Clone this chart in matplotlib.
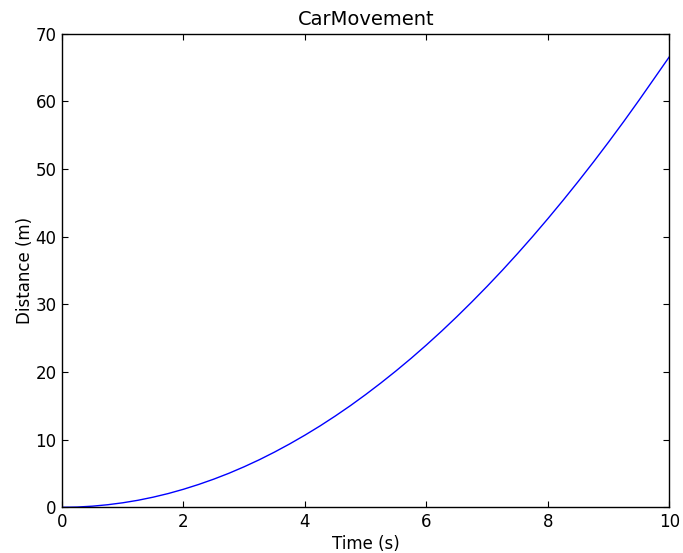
import matplotlib
matplotlib.use("Agg")
import matplotlib.pyplot as plt

# Data
time_s = [0.0, 0.25, 0.5, 0.75, 1.0, 1.25, 1.5, 1.75, 2.0, 2.25, 2.5,
          2.75, 3.0, 3.25, 3.5, 3.75, 4.0, 4.25, 4.5, 4.75, 5.0,
          5.25, 5.5, 5.75, 6.0, 6.25, 6.5, 6.75, 7.0, 7.25, 7.5,
          7.75, 8.0, 8.25, 8.5, 8.75, 9.0, 9.25, 9.5, 9.75, 10.0]
distance_m = [0.0, 0.04, 0.17, 0.38, 0.67, 1.04, 1.5, 2.04, 2.67, 3.38, 4.17,
              5.04, 6.0, 7.04, 8.17, 9.38, 10.67, 12.04, 13.5, 15.04, 16.67,
              18.38, 20.17, 22.04, 24.0, 26.04, 28.17, 30.38, 32.67, 35.04, 37.5,
              40.04, 42.67, 45.38, 48.17, 51.04, 54.0, 57.04, 60.17, 63.38, 66.6]
x_ticks = [0, 2, 4, 6, 8, 10]
y_ticks = [0, 10, 20, 30, 40, 50, 60, 70]

fig = plt.figure(figsize=(6.83, 5.53), dpi=100)
ax = fig.add_axes([0.0908, 0.0826, 0.8893, 0.8565])

ax.plot(time_s, distance_m, color="#0000ff", linewidth=1.0)

ax.set_xlim(0, 10)
ax.set_ylim(0, 70)
ax.set_xticks(x_ticks)
ax.set_yticks(y_ticks)
ax.tick_params(direction="in", length=4, width=0.8, top=True, right=True,
               labelsize=12, pad=4)
for spine in ax.spines.values():
    spine.set_linewidth(1.0)

ax.set_title("CarMovement", fontsize=14, pad=6)
ax.set_xlabel("Time (s)", fontsize=12, labelpad=3)
ax.set_ylabel("Distance (m)", fontsize=12, labelpad=1)

fig.savefig("out.png", dpi=100)
